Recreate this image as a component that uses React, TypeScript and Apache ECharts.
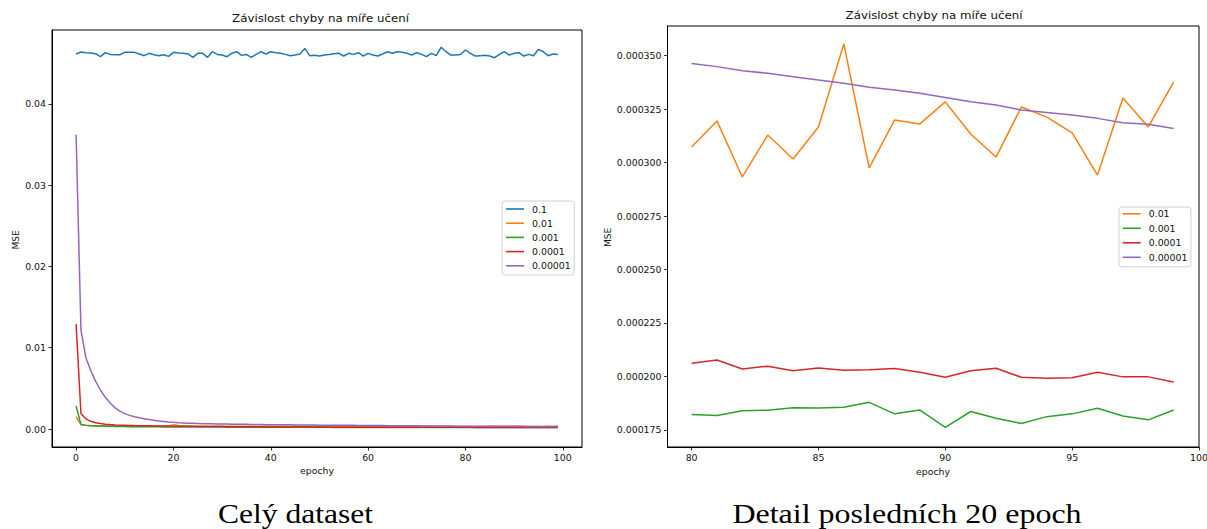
import React, { useEffect, useRef } from "react";
import * as echarts from "echarts";

// ---- data ----
const epochs: number[] = Array.from({ length: 100 }, (_, i) => i);
const detailEpochs: number[] = epochs.slice(80);

const seriesNames = ["0.1", "0.01", "0.001", "0.0001", "0.00001"];
const detailNames = ["0.01", "0.001", "0.0001", "0.00001"];
const colors = ["#1f77b4", "#ff7f0e", "#2ca02c", "#d62728", "#9467bd"];

const fullXTicks = [0, 20, 40, 60, 80, 100];
const fullYTicks = [0, 0.01, 0.02, 0.03, 0.04];
const detailXTicks = [80, 85, 90, 95, 100];
const detailYTicks = [0.000175, 0.0002, 0.000225, 0.00025, 0.000275, 0.0003, 0.000325, 0.00035];

// learning rate 0.1 (all 100 epochs)
const lr01 = [
  0.04613, 0.04637, 0.04629, 0.04625, 0.04617, 0.0458, 0.04629, 0.04608, 0.04604, 0.04604,
  0.04633, 0.04633, 0.04633, 0.04613, 0.04592, 0.04621, 0.04604, 0.04592, 0.04604, 0.04584,
  0.04633, 0.04625, 0.04621, 0.04613, 0.04572, 0.04621, 0.04621, 0.04572, 0.04641, 0.04608,
  0.046, 0.0458, 0.04621, 0.04641, 0.04596, 0.04608, 0.04572, 0.04608, 0.04641, 0.04613,
  0.04641, 0.04629, 0.04621, 0.04608, 0.04592, 0.046, 0.04613, 0.04682, 0.04592, 0.04596,
  0.04588, 0.046, 0.04608, 0.04617, 0.04621, 0.04588, 0.04621, 0.04608, 0.04629, 0.04588,
  0.04621, 0.046, 0.04588, 0.04613, 0.04641, 0.04621, 0.04641, 0.04633, 0.04621, 0.046,
  0.04629, 0.04608, 0.0458, 0.04621, 0.04592, 0.04695, 0.04641, 0.046, 0.046, 0.04608,
  0.04662, 0.04621, 0.04588, 0.04592, 0.04596, 0.04588, 0.04567, 0.04608, 0.04641, 0.046,
  0.04621, 0.04629, 0.04588, 0.04608, 0.04592, 0.0467, 0.04641, 0.04592, 0.04613, 0.04608,
];

// learning rate 0.01
const lr001Early = [
  0.0015, 0.00055, 0.00046, 0.00043, 0.00041, 0.0004, 0.00039, 0.00038, 0.00038, 0.00037,
  0.00037, 0.00036, 0.00037, 0.00036, 0.00035, 0.00036, 0.00035, 0.00036, 0.00035, 0.00036,
  0.00052, 0.00044, 0.00038, 0.00036, 0.00035, 0.00034, 0.00035, 0.00034, 0.00035, 0.00034,
  0.00033, 0.00035, 0.00034, 0.00033, 0.00034, 0.00033, 0.00034, 0.00032, 0.00033, 0.00034,
  0.00033, 0.00032, 0.00033, 0.00034, 0.00032, 0.00033, 0.00031, 0.00033, 0.00032, 0.00034,
  0.00032, 0.00031, 0.00033, 0.00032, 0.0003, 0.00033, 0.00032, 0.00031, 0.00033, 0.00032,
  0.0003, 0.00032, 0.00033, 0.00031, 0.00032, 0.0003, 0.00033, 0.00031, 0.00032, 0.0003,
  0.00032, 0.00031, 0.00033, 0.0003, 0.00032, 0.00031, 0.00029, 0.00032, 0.00031, 0.0003,
];
const lr001Detail = [
  0.0003073, 0.0003195, 0.0002933, 0.0003129, 0.0003017, 0.0003167, 0.0003555, 0.0002975, 0.0003199, 0.0003181,
  0.0003284, 0.0003134, 0.0003026, 0.000326, 0.0003213, 0.0003139, 0.0002942, 0.0003302, 0.0003167, 0.0003377,
];

// learning rate 0.001
const lr0001Early = [
  0.00285, 0.00055, 0.00045, 0.00041, 0.00038, 0.00036, 0.00034, 0.00033, 0.00032, 0.00031,
  0.0003, 0.000296, 0.000289, 0.000286, 0.000279, 0.000276, 0.000271, 0.000267, 0.000265, 0.00026,
  0.000259, 0.000254, 0.000253, 0.000249, 0.000248, 0.000244, 0.000243, 0.000241, 0.000238, 0.000237,
  0.000235, 0.000234, 0.000231, 0.00023, 0.000229, 0.000226, 0.000225, 0.000224, 0.000221, 0.00022,
  0.000219, 0.000217, 0.000216, 0.000215, 0.000213, 0.000212, 0.000211, 0.00021, 0.000208, 0.000207,
  0.000206, 0.000205, 0.000204, 0.000203, 0.000202, 0.000201, 0.0002, 0.000199, 0.000198, 0.000197,
  0.000196, 0.000195, 0.000195, 0.000193, 0.000193, 0.000192, 0.000191, 0.00019, 0.00019, 0.000189,
  0.000188, 0.000188, 0.000187, 0.000186, 0.000186, 0.000185, 0.000185, 0.000184, 0.000184, 0.000183,
];
const lr0001Detail = [
  0.0001822, 0.0001817, 0.000184, 0.0001842, 0.0001854, 0.0001852, 0.0001856, 0.0001879, 0.0001825, 0.0001843,
  0.0001762, 0.0001836, 0.0001804, 0.000178, 0.0001812, 0.0001825, 0.0001851, 0.0001815, 0.0001797, 0.0001843,
];

// learning rate 0.0001
const lr00001Early = [
  0.0129, 0.00192, 0.00125, 0.00095, 0.00078, 0.00067, 0.0006, 0.00055, 0.00051, 0.00048,
  0.00046, 0.00044, 0.00042, 0.00041, 0.0004, 0.00039, 0.00038, 0.00037, 0.00036, 0.00036,
  0.00035, 0.00034, 0.00034, 0.00033, 0.00033, 0.00032, 0.00032, 0.00031, 0.00031, 0.0003,
  0.0003, 0.00029, 0.00029, 0.00029, 0.00028, 0.00028, 0.00027, 0.00027, 0.00027, 0.00026,
  0.00026, 0.00026, 0.00025, 0.00025, 0.00025, 0.00025, 0.00024, 0.00024, 0.00024, 0.00024,
  0.00023, 0.00023, 0.00023, 0.00023, 0.00023, 0.00022, 0.00022, 0.00022, 0.00022, 0.00022,
  0.00022, 0.00021, 0.00021, 0.00021, 0.00021, 0.00021, 0.00021, 0.00021, 0.00021, 0.00021,
  0.000208, 0.000208, 0.000207, 0.000207, 0.000207, 0.000206, 0.000206, 0.000206, 0.000205, 0.000205,
];
const lr00001Detail = [
  0.0002062, 0.0002077, 0.0002035, 0.0002048, 0.0002027, 0.000204, 0.0002029, 0.0002031, 0.0002037, 0.000202,
  0.0001996, 0.0002027, 0.0002038, 0.0001996, 0.0001992, 0.0001994, 0.000202, 0.0001998, 0.0001998, 0.0001974,
];

// learning rate 0.00001
const lr000001Early = [
  0.0362, 0.0122, 0.0088, 0.0072, 0.0059, 0.0048, 0.0039, 0.0032, 0.0026, 0.0022,
  0.0019, 0.00168, 0.00152, 0.00138, 0.00127, 0.00116, 0.00107, 0.00099, 0.00093, 0.00087,
  0.00082, 0.00078, 0.00075, 0.00072, 0.0007, 0.00068, 0.00066, 0.00065, 0.00064, 0.00063,
  0.00062, 0.00061, 0.0006, 0.00059, 0.00058, 0.00058, 0.00057, 0.00056, 0.00055, 0.00054,
  0.00054, 0.00053, 0.00053, 0.00052, 0.00052, 0.00051, 0.0005, 0.0005, 0.00049, 0.00049,
  0.00048, 0.00048, 0.00047, 0.00047, 0.00046, 0.00046, 0.00045, 0.00045, 0.00044, 0.00044,
  0.00043, 0.00043, 0.00042, 0.00042, 0.00041, 0.00041, 0.0004, 0.0004, 0.0004, 0.00039,
  0.00039, 0.00038, 0.00038, 0.00037, 0.00037, 0.00036, 0.00036, 0.00036, 0.00035, 0.00035,
];
const lr000001Detail = [
  0.0003464, 0.0003449, 0.000343, 0.0003418, 0.0003402, 0.0003386, 0.0003371, 0.0003352, 0.000334, 0.0003324,
  0.0003305, 0.0003285, 0.000327, 0.0003246, 0.0003235, 0.0003223, 0.0003207, 0.0003187, 0.0003179, 0.000316,
];

const fullValues = [
  lr01,
  [...lr001Early, ...lr001Detail],
  [...lr0001Early, ...lr0001Detail],
  [...lr00001Early, ...lr00001Detail],
  [...lr000001Early, ...lr000001Detail],
];
const detailValues = [lr001Detail, lr0001Detail, lr00001Detail, lr000001Detail];

const FONT = "DejaVu Sans";
const SERIF = "Liberation Serif";
const TXT = "#111";
const LEGEND_ICON = "path://M0 0H18V1.6H0Z";

function pairs(xs: number[], ys: number[]) {
  return xs.map((x, i) => [x, ys[i]]);
}

function measure(text: string, size: number, family: string): number {
  const ctx = document.createElement("canvas").getContext("2d");
  if (!ctx) return 0;
  ctx.font = `${size}px "${family}"`;
  return ctx.measureText(text).width;
}

function axisCommon(gridIndex: number, min: number, max: number, ticks: number[], fmt: (v: number) => string) {
  return {
    type: "value",
    gridIndex,
    min,
    max,
    axisLine: { show: true, onZero: false, lineStyle: { color: "#000", width: 1 } },
    axisTick: { show: true, length: 3.5, customValues: ticks, lineStyle: { color: "#000", width: 0.8 } },
    axisLabel: {
      customValues: ticks,
      fontSize: 9.4,
      fontFamily: FONT,
      color: TXT,
      margin: 6,
      formatter: (v: number) => fmt(v),
    },
    splitLine: { show: false },
  };
}

function legendCfg(data: string[], left: number, top: number, padding: number[], gap: number) {
  return {
    data,
    left,
    top,
    orient: "vertical",
    icon: LEGEND_ICON,
    itemWidth: 18,
    itemHeight: 12,
    itemGap: gap,
    padding,
    borderColor: "#d0d0d0",
    borderWidth: 1,
    borderRadius: 3,
    backgroundColor: "rgba(255,255,255,0.85)",
    selectedMode: false,
    textStyle: { fontSize: 9.4, fontFamily: FONT, color: TXT, lineHeight: 12, padding: [0, 0, 0, 3] },
  };
}

export default function App() {
  const ref = useRef<HTMLDivElement>(null);

  useEffect(() => {
    document.body.style.margin = "0";
    if (!ref.current) return;
    const chart = echarts.init(ref.current, undefined, { renderer: "svg" });

    const series: any[] = [];
    seriesNames.forEach((name, i) => {
      series.push({
        type: "line",
        name,
        xAxisIndex: 0,
        yAxisIndex: 0,
        data: pairs(epochs, fullValues[i]),
        symbol: "none",
        lineStyle: { width: 1.5, color: colors[i] },
        itemStyle: { color: colors[i] },
      });
    });
    detailNames.forEach((name, i) => {
      series.push({
        type: "line",
        name,
        xAxisIndex: 1,
        yAxisIndex: 1,
        data: pairs(detailEpochs, detailValues[i]),
        symbol: "none",
        lineStyle: { width: 1.5, color: colors[i + 1] },
        itemStyle: { color: colors[i + 1] },
      });
    });

    const title = "Závislost chyby na míře učení";
    const txt = (
      x: number,
      y: number,
      text: string,
      size: number,
      family: string,
      targetWidth: number | null,
      rotation = 0
    ) => {
      const w = measure(text, size, family);
      const sx = targetWidth && w > 0 ? targetWidth / w : 1;
      return {
        type: "text",
        x,
        y,
        rotation,
        scaleX: sx,
        style: {
          text,
          fontFamily: family,
          fontSize: size,
          fill: family === SERIF ? "#000" : TXT,
          align: "center",
          verticalAlign: "middle",
        },
      };
    };

    const option: any = {
      animation: false,
      backgroundColor: "#fff",
      textStyle: { fontFamily: FONT },
      grid: [
        { left: 52, top: 30, width: 530, height: 417, show: true, borderColor: "#000", borderWidth: 1, containLabel: false, outerBoundsMode: "none" },
        { left: 667.5, top: 26, width: 531.5, height: 421, show: true, borderColor: "#000", borderWidth: 1, containLabel: false, outerBoundsMode: "none" },
      ],
      xAxis: [
        axisCommon(0, -4.95, 103.95, fullXTicks, (v) => String(v)),
        axisCommon(1, 79.05, 100, detailXTicks, (v) => String(v)),
      ],
      yAxis: [
        axisCommon(0, -0.00221, 0.04908, fullYTicks, (v) => v.toFixed(2)),
        axisCommon(1, 0.000167, 0.0003639, detailYTicks, (v) => v.toFixed(6)),
      ],
      legend: [
        legendCfg(seriesNames, 502, 201, [2, 3.5, 3.2, 4], 2.2),
        legendCfg(detailNames, 1119, 207, [0.8, 3.5, 3.5, 3.7], 2.5),
      ],
      series,
      graphic: [
        txt(320.5, 19.3, title, 10, FONT, 177),
        txt(934, 16.3, title, 10, FONT, 177),
        txt(16, 240, "MSE", 9, FONT, null, Math.PI / 2),
        txt(607.5, 237.5, "MSE", 9, FONT, null, Math.PI / 2),
        txt(317, 471, "epochy", 9, FONT, 34),
        txt(933, 471.5, "epochy", 9, FONT, 34),
        txt(295.5, 513.5, "Celý dataset", 26.4, SERIF, 155),
        txt(907, 513.5, "Detail posledních 20 epoch", 26.4, SERIF, 349),
      ],
    };

    chart.setOption(option);
    return () => chart.dispose();
  }, []);

  return <div ref={ref} style={{ width: 1207, height: 529 }} />;
}
